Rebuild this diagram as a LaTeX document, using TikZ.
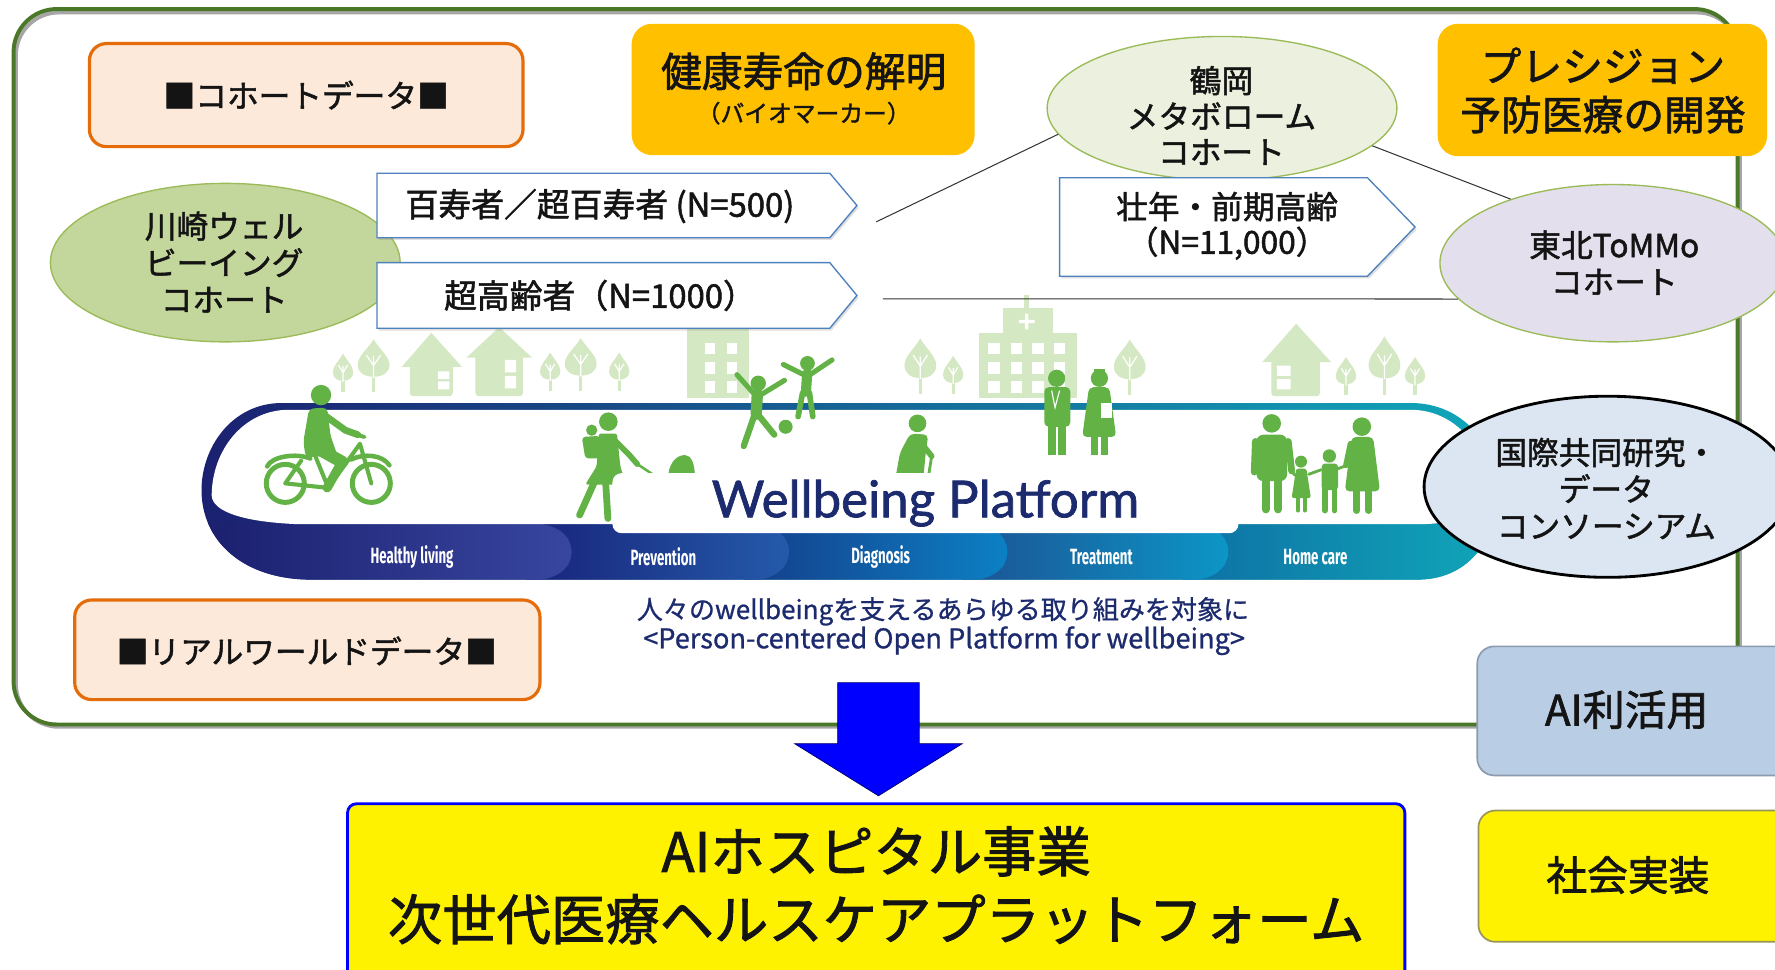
\documentclass[tikz,border=0pt]{standalone}
\usepackage{fontspec}
\usepackage{graphicx}
\setmainfont{Noto Sans CJK JP}[FakeBold=1.6]
\newfontfamily\mottofont{Noto Sans CJK JP}[FakeBold=0.8]
\newfontfamily\brandfont{Lato}[FakeBold=1.4]
\newfontfamily\stagefont{Fira Sans}
\usetikzlibrary{shapes.geometric,shadows}

\definecolor{framegreen}{RGB}{75,120,40}
\definecolor{orangeline}{RGB}{228,108,10}
\definecolor{peach}{RGB}{253,233,217}
\definecolor{gold}{RGB}{255,192,0}
\definecolor{cohortline}{RGB}{155,187,89}
\definecolor{kawasakifill}{RGB}{195,214,155}
\definecolor{tsuruokafill}{RGB}{235,241,222}
\definecolor{tohokufill}{RGB}{228,223,236}
\definecolor{intlfill}{RGB}{220,230,242}
\definecolor{arrowline}{RGB}{79,129,189}
\definecolor{ailight}{RGB}{185,205,229}
\definecolor{aiedge}{RGB}{140,155,175}
\definecolor{yellowedge}{RGB}{150,150,90}
\definecolor{inkblack}{RGB}{20,20,20}
\definecolor{navytext}{RGB}{28,42,110}
\definecolor{pictgreen}{RGB}{98,178,70}
\definecolor{scenegreen}{RGB}{212,232,195}
\definecolor{trackleft}{RGB}{27,32,112}
\definecolor{trackmid}{RGB}{26,84,158}
\definecolor{trackright}{RGB}{15,168,186}
\definecolor{hlA}{RGB}{26,30,108}\definecolor{hlB}{RGB}{56,70,160}
\definecolor{pvA}{RGB}{24,36,122}\definecolor{pvB}{RGB}{36,90,170}
\definecolor{dgA}{RGB}{20,62,138}\definecolor{dgB}{RGB}{12,128,196}
\definecolor{trA}{RGB}{28,82,148}\definecolor{trB}{RGB}{12,150,198}
\definecolor{hcA}{RGB}{14,112,164}\definecolor{hcB}{RGB}{16,170,186}

% a tree of the street scene: x, base y, crown width, crown height
\newcommand{\scenetree}[4]{%
  \pgfmathsetmacro{\treeX}{#1}\pgfmathsetmacro{\treeB}{#2}%
  \pgfmathsetmacro{\treeW}{#3/2}\pgfmathsetmacro{\treeH}{#4}%
  \pgfmathsetmacro{\treeCB}{\treeB-0.4*\treeH}%
  \pgfmathsetmacro{\treeCT}{\treeCB-\treeH}%
  \fill[scenegreen] (\treeX-1.4,\treeB) rectangle (\treeX+1.4,\treeCB);
  \fill[scenegreen] (\treeX,\treeCT)
    .. controls (\treeX+0.35*\treeW,\treeCT+0.25*\treeH) and (\treeX+\treeW,\treeCT+0.45*\treeH) .. (\treeX+\treeW,\treeCT+0.68*\treeH)
    .. controls (\treeX+\treeW,\treeCB-0.1*\treeH) and (\treeX+0.55*\treeW,\treeCB) .. (\treeX,\treeCB)
    .. controls (\treeX-0.55*\treeW,\treeCB) and (\treeX-\treeW,\treeCB-0.1*\treeH) .. (\treeX-\treeW,\treeCT+0.68*\treeH)
    .. controls (\treeX-\treeW,\treeCT+0.45*\treeH) and (\treeX-0.35*\treeW,\treeCT+0.25*\treeH) .. (\treeX,\treeCT) -- cycle;
  \draw[white, line width=1.1] (\treeX,\treeCB+1) -- (\treeX,\treeCT+0.45*\treeH)
    (\treeX,\treeCB-0.3*\treeH) -- (\treeX-0.45*\treeW,\treeCT+0.42*\treeH)
    (\treeX,\treeCB-0.3*\treeH) -- (\treeX+0.45*\treeW,\treeCT+0.42*\treeH);
}

% one coloured stage of the platform band: start x, end x, left colour, right colour
\newcommand{\bandstage}[4]{%
  \shade[left color=#3, right color=#4] (#1,462) -- (#2-38,462)
    .. controls (#2-12,462) and (#2,474) .. (#2,487.5)
    .. controls (#2,501) and (#2-12,513) .. (#2-38,513) -- (#1,513) -- cycle;
}

\begin{document}
\begin{tikzpicture}[x=1pt,y=-1pt,
  jp/.style={text=inkblack, inner sep=0, align=center},
  size28/.style={font=\fontsize{28}{32.5}\selectfont},
  databox/.style={draw=orangeline, line width=2.8, fill=peach, rounded corners=15, inner sep=0},
  goalbox/.style={fill=gold, rounded corners=18, inner sep=0},
  cohort/.style={ellipse, draw=cohortline, line width=1.2, inner sep=0},
  pointerbox/.style={fill=white, draw=arrowline, line width=1.2,
    drop shadow={shadow xshift=1.5pt, shadow yshift=-2pt, opacity=0.25}},
  link/.style={draw=black!80, line width=0.9},
  stage/.style={text=white, inner sep=0, font=\stagefont\bfseries\fontsize{19.5}{20}\selectfont},
  figure/.style={fill=pictgreen},
  limb/.style={draw=pictgreen, line cap=round, line join=round},
]
\useasboundingbox (0,0) rectangle (1568,856);
\clip (0,0) rectangle (1568,856);
\fill[white] (0,0) rectangle (1568,856);

% ---------- outer frame ----------
\draw[black!35, line width=3.5, rounded corners=38] (14,11) rectangle (1537,642);
\draw[framegreen, line width=3.5, rounded corners=38] (12,8) rectangle (1535,640);

% ---------- street scene ----------
\scenetree{303}{346}{18}{24}
\scenetree{330}{346}{28}{33}
\scenetree{486}{345}{18}{24}
\scenetree{513}{345}{28}{33}
\scenetree{547}{345}{18}{24}
\scenetree{813}{348}{28}{35}
\scenetree{842}{348}{18}{24}
\scenetree{998}{349}{28}{35}
\scenetree{1189}{349}{18}{24}
\scenetree{1223}{349}{28}{37}
\scenetree{1250}{349}{18}{24}
% houses
\fill[scenegreen] (355,324) -- (381,294) -- (408,324) -- cycle;
\fill[scenegreen, rounded corners=3] (362,320) -- (400,320) -- (400,350) -- (362,350) -- cycle;
\fill[white] (387,328) rectangle (397,335) (387,337) rectangle (397,344);
\fill[scenegreen] (412,316) -- (441,289) -- (470,316) -- cycle;
\fill[scenegreen, rounded corners=3] (420,312) -- (462,312) -- (462,350) -- (420,350) -- cycle;
\fill[white] (446,318) rectangle (456,329) (446,332) rectangle (456,343);
\fill[scenegreen] (1115,320) -- (1145,286) -- (1176,320) -- cycle;
\fill[scenegreen, rounded corners=3] (1123,316) -- (1166,316) -- (1166,350) -- (1123,350) -- cycle;
\fill[white] (1128,323) rectangle (1140,332) (1128,335) rectangle (1140,344);
% apartment block
\fill[scenegreen] (607,280) rectangle (662,352);
\foreach \wx in {623,642} \foreach \wy in {303,320,337} \fill[white] (\wx,\wy) rectangle (\wx+9,\wy+10);
% hospital
\fill[scenegreen] (905,261) rectangle (909,274);
\fill[scenegreen] (886,272) rectangle (930,296);
\fill[scenegreen] (865,294) rectangle (951,352);
\fill[white] (905.5,277) rectangle (908.5,291) (900,282.5) rectangle (914,285.5);
\foreach \wx in {873,893,912,931} \foreach \wy in {303,320,337} \fill[white] (\wx,\wy) rectangle (\wx+10,\wy+10);

% ---------- platform track ----------
\begin{scope}
  \clip (1246,356) -- (249,356) .. controls (205,356) and (178,395) .. (178,433)
     .. controls (178,478) and (215,512) .. (275,512) -- (1252,512)
     .. controls (1295,512) and (1322,480) .. (1322,435)
     .. controls (1322,392) and (1292,356) .. (1246,356) -- cycle;
  \shade[left color=trackleft, middle color=trackmid, right color=trackright] (170,350) rectangle (1330,520);
  \bandstage{1045}{1340}{hcA}{hcB}
  \bandstage{850}{1085}{trA}{trB}
  \bandstage{657}{890}{dgA}{dgB}
  \bandstage{465}{697}{pvA}{pvB}
  \bandstage{170}{505}{hlA}{hlB}
\end{scope}
\fill[white] (1246,362) -- (255,362) .. controls (215,362) and (187,398) .. (187,438)
   .. controls (188,452) and (215,461) .. (262,463) -- (1255,463)
   .. controls (1290,463) and (1313,450) .. (1313,432)
   .. controls (1313,395) and (1285,362) .. (1246,362) -- cycle;

% ---------- people ----------
% cyclist
\draw[limb, line width=4.4] (252,427) circle (16.8) (328,427) circle (16.8);
\draw[limb, line width=3.6] (252,427) -- (290,431) -- (318,392) -- (328,427) (290,431) -- (279,404) (266,407) -- (252,427);
\draw[limb, line width=4] (236,412) .. controls (240,403) and (262,400) .. (274,405)
   (310,406) .. controls (322,400) and (338,402) .. (344,411);
\draw[limb, line width=3.5] (312,383) -- (322,386);
\fill[figure] (283.6,349) circle (9);
\fill[figure, rounded corners=4] (273,361) -- (289,360) -- (292,385) -- (298,402) -- (270,404) -- (268,390) -- cycle;
\draw[limb, line width=6] (287,367) -- (305,380) -- (316,384);
\draw[limb, line width=11] (284,398) -- (302,408);
\draw[limb, line width=8] (302,408) -- (289,431);
% mother with baby and pram
\fill[figure] (537.4,372.5) circle (8.2);
\fill[figure] (522.7,380) circle (5);
\fill[figure, rounded corners=3] (514,386) -- (530,385) -- (530,405) -- (517,405) -- cycle;
\fill[figure, rounded corners=2] (529,383) -- (545,383) -- (548,412) -- (553,428) -- (517,428) -- (527,412) -- cycle;
\draw[limb, line width=6] (525,426) -- (512,455) (535,426) -- (537,458);
\draw[limb, line width=5] (542,388) -- (556,402) -- (563,410);
\draw[limb, line width=2.2] (563,410) -- (584,424);
\fill[figure] (590,424) .. controls (590,410) and (597,402) .. (605,402) .. controls (611,402) and (614,410) .. (614,424) -- cycle;
% children at play
\fill[figure] (669.8,338.6) circle (6.8);
\draw[limb, line width=10] (669,348) -- (668,366);
\draw[limb, line width=4.5] (668,350) -- (651,331) (670,350) -- (693,336);
\draw[limb, line width=5.5] (666,368) -- (657,394) (671,368) -- (684,384);
\fill[figure] (694,377) circle (6.2);
\fill[figure] (713.3,321) circle (6.5);
\draw[limb, line width=9] (713,330) -- (712,346);
\draw[limb, line width=4.5] (712,332) -- (692,322) (714,332) -- (735,318);
\draw[limb, line width=5] (709,347) -- (705,368) (715,347) -- (718,368);
% elderly walker with cane
\fill[figure] (810.5,374) circle (7.8);
\fill[figure, rounded corners=4] (804,383) -- (820,384) -- (818,398) -- (815,428) -- (790,428) -- (795,400) -- cycle;
\draw[limb, line width=5] (812,389) -- (823,403);
\draw[limb, line width=2.5] (823,403) -- (820,422);
% doctor and nurse
\fill[figure] (933.4,334.2) circle (7.6);
\fill[figure, rounded corners=4] (922.5,342) rectangle (945.5,377);
\draw[limb, line width=7, line cap=butt] (929.5,374) -- (929.5,402) (938.5,374) -- (938.5,402);
\draw[white, line width=1] (929,345) -- (932,360) -- (936,345);
\fill[figure] (971.2,334.2) circle (7.6);
\fill[figure] (966,326) rectangle (976,328.5);
\fill[figure, rounded corners=4] (962,342) -- (980,342) -- (986,386) -- (956,386) -- cycle;
\draw[limb, line width=6, line cap=butt] (966.5,384) -- (966.5,402) (975.5,384) -- (975.5,402);
\fill[white] (973,356) rectangle (982,369);
% family
\fill[figure] (1123.4,374) circle (8.2);
\fill[figure, rounded corners=6] (1110,384) rectangle (1137,425);
\draw[limb, line width=6] (1109,390) -- (1108,417) (1138,390) -- (1141,416);
\draw[limb, line width=7] (1118,423) -- (1118,450) (1129,423) -- (1129,450);
\draw[limb, line width=2.5] (1141,416) -- (1144,420) (1156,419) -- (1167,415) (1182,414) -- (1190,411);
\fill[figure] (1149.3,407.8) circle (5.3);
\fill[figure, rounded corners=2] (1145,414) -- (1154,414) -- (1158,440) -- (1141,440) -- cycle;
\draw[limb, line width=3.5] (1146.5,440) -- (1146.5,451) (1152.5,440) -- (1152.5,451);
\fill[figure] (1174.3,402.8) circle (5.9);
\fill[figure, rounded corners=3] (1167.5,409.5) rectangle (1182,433);
\draw[limb, line width=5] (1170.5,432) -- (1170.5,451) (1179,432) -- (1179,451);
\fill[figure] (1203,376.9) circle (8.2);
\fill[figure, rounded corners=4] (1194,386) -- (1213,386) -- (1219,434) -- (1188,434) -- cycle;
\draw[limb, line width=5] (1193,392) -- (1189,411);
\draw[limb, line width=6] (1198.5,433) -- (1198.5,451) (1208.8,433) -- (1208.8,451);

% ---------- platform label and stages ----------
\node[fill=white, rounded corners=8, minimum width=553, minimum height=53, inner sep=0,
  text=navytext, font=\brandfont\fontsize{45}{50}\selectfont] (platform) at (817.5,444.5) {Wellbeing Platform};
\node[stage] (healthy) at (364,492) {\scalebox{0.6}[1]{Healthy living}};
\node[stage] (prevention) at (586,492) {\scalebox{0.6}[1]{Prevention}};
\node[stage] (diagnosis) at (778,492) {\scalebox{0.6}[1]{Diagnosis}};
\node[stage] (treatment) at (973,492) {\scalebox{0.6}[1]{Treatment}};
\node[stage] (homecare) at (1162,492) {\scalebox{0.6}[1]{Home care}};
\node[jp, text=navytext, font=\mottofont\fontsize{23}{26}\selectfont] (motto) at (833,540) {人々のwellbeingを支えるあらゆる取り組みを対象に};
\node[jp, text=navytext, font=\mottofont\fontsize{24}{26}\selectfont] (mottoen) at (834,566) {<Person-centered Open Platform for wellbeing>};

% ---------- data boxes and goals ----------
\node[databox, minimum width=383, minimum height=91] (cohortdata) at (270.5,84) {};
\node[jp, size28] (cohortdatatext) at (270.5,84) {■コホートデータ■};
\node[databox, minimum width=411, minimum height=88] (rwdata) at (271.5,574) {};
\node[jp, size28] (rwdatatext) at (271,575) {■リアルワールドデータ■};

\node[goalbox, minimum width=303, minimum height=116] (lifespan) at (709.5,79) {};
\node[jp, font=\fontsize{36}{40}\selectfont] (lifespantext) at (710,63) {健康寿命の解明};
\node[jp, font=\fontsize{21}{25}\selectfont] (biomarker) at (710,100) {（バイオマーカー）};
\node[goalbox, minimum width=291, minimum height=117] (precision) at (1415.5,79.5) {};
\node[jp, font=\fontsize{36}{43}\selectfont] (precisiontext) at (1416,80) {プレシジョン\\予防医療の開発};

% ---------- cohorts ----------
\node[cohort, fill=kawasakifill, minimum width=309, minimum height=140] (kawasaki) at (199,232) {};
\node[jp, size28] (kawasakitext) at (198,231.5) {川崎ウェル\\ビーイング\\コホート};
\node[cohort, fill=tsuruokafill, minimum width=309, minimum height=127] (tsuruoka) at (1079.5,95.7) {};
\node[jp, font=\fontsize{28}{31.5}\selectfont] (tsuruokatext) at (1079,102) {鶴岡\\メタボローム\\コホート};
\node[cohort, fill=tohokufill, minimum width=306, minimum height=139] (tohoku) at (1425,232.5) {};
\node[jp, size28] (tohokutext) at (1426,232) {東北ToMMo\\コホート};

% age-group pointers
\path[pointerbox] (333,153) -- (733,153) -- (757,181.5) -- (733,210) -- (333,210) -- cycle;
\node[jp, font=\fontsize{29}{33}\selectfont] (centenarian) at (530,182) {百寿者／超百寿者 (N=500)};
\path[pointerbox] (333,232) -- (733,232) -- (757,261) -- (733,290) -- (333,290) -- cycle;
\node[jp, font=\fontsize{29}{33}\selectfont] (oldestold) at (530,261) {超高齢者（N=1000）};
\path[pointerbox] (936,157) -- (1208,157) -- (1250,200.5) -- (1208,244) -- (936,244) -- cycle;
\node[jp, font=\fontsize{28}{31}\selectfont] (midage) at (1084,199.5) {壮年・前期高齢\\（N=11,000）};

% links between cohorts
\coordinate (centenarianend) at (774,196);
\coordinate (oldestoldend) at (780,264);
\draw[link] (centenarianend) -- (tsuruoka.189);
\draw[link] (tsuruoka.346) -- (tohoku.148);
\draw[link] (oldestoldend) -- (tohoku.193.5);

% international consortium
\node[ellipse, draw=black, line width=2.5, fill=intlfill, minimum width=324, minimum height=160, inner sep=0] (consortium) at (1420,430) {};
\node[jp, size28] (consortiumtext) at (1419,431.5) {国際共同研究・\\データ\\コンソーシアム};

% ---------- outcome ----------
\fill[blue, draw=blue!40!black, line width=0.6] (740,603) -- (812,603) -- (812,657) -- (850,657) -- (776,703) -- (702,657) -- (740,657) -- cycle;
\node[fill=yellow, draw=blue, line width=2.5, rounded corners=8, minimum width=934, minimum height=180, inner sep=0] (aihospital) at (774,800) {};
\node[jp, font=\fontsize{48}{60}\selectfont] (aihospitaltext) at (774,752) {AIホスピタル事業};
\node[jp, font=\fontsize{48}{60}\selectfont] (nextgentext) at (774,812) {次世代医療ヘルスケアプラットフォーム};

\node[fill=ailight, draw=aiedge, line width=1.5, rounded corners=15, minimum width=280, minimum height=114, inner sep=0] (aiuse) at (1445,628) {};
\node[jp, font=\fontsize{37}{40}\selectfont] (aiusetext) at (1437,627) {AI利活用};
\node[fill=yellow, draw=yellowedge, line width=1.5, rounded corners=15, minimum width=280, minimum height=116, inner sep=0] (deploy) at (1446,774) {};
\node[jp, font=\fontsize{36}{40}\selectfont] (deploytext) at (1438,773) {社会実装};
\end{tikzpicture}
\end{document}
